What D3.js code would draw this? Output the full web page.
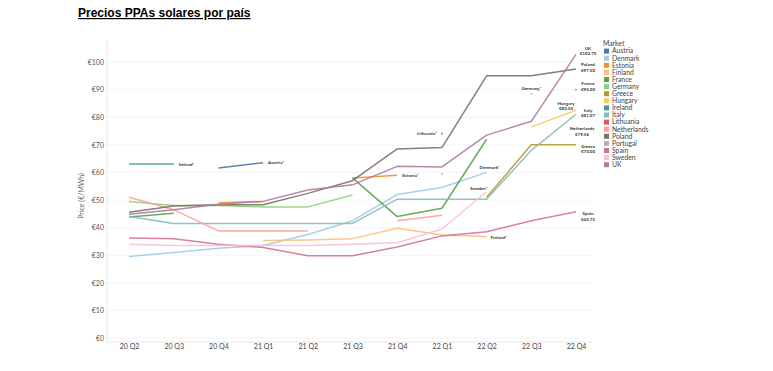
<!DOCTYPE html>
<html>
<head>
<meta charset="utf-8">
<script src="https://cdn.jsdelivr.net/npm/d3@7"></script>
<style>
  body { margin: 0; background: #fff; }
  svg { display: block; }
</style>
</head>
<body>
<div id="wrapper"></div>
<script>
// data
const quarters = ["20 Q2", "20 Q3", "20 Q4", "21 Q1", "21 Q2", "21 Q3", "21 Q4", "22 Q1", "22 Q2", "22 Q3", "22 Q4"]
const markets = ["Austria", "Denmark", "Estonia", "Finland", "France", "Germany", "Greece", "Hungary",
  "Ireland", "Italy", "Lithuania", "Netherlands", "Poland", "Portugal", "Spain", "Sweden", "UK"]
const marketColors = ["#4e79a7", "#a0cbe8", "#f28e2b", "#ffbe7d", "#59a14f", "#8cd17d", "#b6992d", "#f1ce63",
  "#499894", "#86bcb6", "#e15759", "#ff9d9a", "#79706e", "#bab0ac", "#d37295", "#fabfd2", "#b07aa1"]

const austria     = [null, null, 61.6, 63.5, null, null, null, null, null, null, null]
const denmark     = [29.5, 31, 32.5, 33.5, 37.5, 42.5, 52, 54.5, 60, null, null]
const estonia     = [null, null, 49, 49.5, null, 58, 59, null, null, null, null]
const finland     = [null, null, null, 35.3, 35.5, 36, 39.8, 37.3, 36.8, null, null]
const france      = [43.8, 45.2, null, null, null, 58, 44, 47, 72, null, null]
const germany     = [49.5, 48, 48, 47.5, 47.5, 51.8, null, null, null, null, null]
const greece      = [null, null, null, null, null, null, null, null, 51, 70, 70]
const hungary     = [null, null, null, null, null, null, null, null, null, 76.5, 82.5]
const ireland     = [63, 63, null, null, null, null, null, null, null, null, null]
const italy       = [44, 41.5, 41.5, 41.5, 41.5, 41.5, 50.3, 50.3, 50.3, 68, 81.07]
const netherlands = [51, 46.5, 38.8, 38.8, 38.8, null, 42.5, 44.5, null, null, null]
const poland      = [45.6, 47.8, 48.3, 48.3, 52.4, 57, 68.5, 69, 95, 95, 97.5]
const spain       = [36.2, 36, 34, 32.8, 29.8, 29.8, 33, 37, 38.5, 42.5, 45.75]
const sweden      = [34, 33.5, 33.5, 33.5, 33.5, 34, 34.5, 39.5, 53, null, null]
const uk          = [44.8, 46.5, 48.5, 49.5, 53.6, 55.5, 62.2, 62, 73.5, 78.5, 102.75]

const seriesList = [
  ["Austria", austria], ["Denmark", denmark], ["Estonia", estonia], ["Finland", finland],
  ["France", france], ["Germany", germany], ["Greece", greece], ["Hungary", hungary],
  ["Ireland", ireland], ["Italy", italy], ["Netherlands", netherlands], ["Poland", poland],
  ["Spain", spain], ["Sweden", sweden], ["UK", uk],
]

// single-point markers next to some labels
const markerNames  = ["Lithuania", "Estonia", "Germany", "France"]
const markerQuarter = ["22 Q1", "22 Q1", "22 Q3", "22 Q4"]
const markerValues = [74, 59.5, 88.5, 90]

// value call-outs at the last quarter
const endNames  = ["UK", "Poland", "France", "Hungary", "Italy", "Netherlands", "Greece", "Spain"]
const endTexts  = ["€102.75", "€97.50", "€95.00", "€82.50", "€81.07", "€79.56", "€70.00", "€45.75"]
const endValues = [104.5, 98.5, 91.5, 84.5, 82, 75.3, 69, 44.5]

// inline series labels
const inlineNames  = ["Ireland¹", "Austria¹", "Estonia¹", "Lithuania¹", "Germany¹", "Denmark¹", "Sweden¹", "Finland¹"]
const inlineQuarter = ["20 Q3", "21 Q1", "21 Q4", "22 Q1", "22 Q3", "22 Q2", "22 Q2", "22 Q2"]
const inlineValues = [63, 63.5, 59, 74, 90.5, 61.5, 54.3, 36.6]

const yTicks = [0, 10, 20, 30, 40, 50, 60, 70, 80, 90, 100]

async function drawChart() {
  const width = 773
  const height = 371

  const svg = d3.select("#wrapper")
    .append("svg")
      .attr("width", width)
      .attr("height", height)
      .style("font-family", "Lato, 'Open Sans', sans-serif")

  // title
  svg.append("text")
      .attr("x", 78)
      .attr("y", 17)
      .attr("font-size", 12)
      .attr("font-weight", "bold")
      .attr("font-family", "'Liberation Sans', Arial, sans-serif")
      .style("text-decoration", "underline")
      .attr("fill", "#000")
      .text("Precios PPAs solares por país")

  // scales
  const xScale = d3.scalePoint()
    .domain(quarters)
    .range([129, 576])
  const yScale = d3.scaleLinear()
    .domain([0, 100])
    .range([338, 62])
  const colorScale = d3.scaleOrdinal(markets, marketColors)

  // grid
  svg.append("g")
    .selectAll("line")
    .data(yTicks)
    .join("line")
      .attr("x1", 108)
      .attr("x2", 592)
      .attr("y1", d => yScale(d))
      .attr("y2", d => yScale(d))
      .attr("stroke", "#f1f1f1")
      .attr("stroke-width", 0.8)

  svg.append("line")
      .attr("x1", 107).attr("x2", 107)
      .attr("y1", 40).attr("y2", 342)
      .attr("stroke", "#e6e6e6")
  svg.append("line")
      .attr("x1", 107).attr("x2", 592)
      .attr("y1", 342).attr("y2", 342)
      .attr("stroke", "#e6e6e6")

  // y axis
  const yAxis = d3.axisLeft(yScale)
    .tickValues(yTicks)
    .tickSize(0)
    .tickPadding(0)
    .tickFormat(d => "€" + d)
  svg.append("g")
      .attr("transform", "translate(104,0)")
      .call(yAxis)
      .call(g => g.select(".domain").remove())
      .call(g => g.selectAll("text").attr("font-size", 7).attr("fill", "#555").attr("font-family", "Lato, sans-serif"))

  svg.append("text")
      .attr("transform", "translate(84,196) rotate(-90)")
      .attr("text-anchor", "middle")
      .attr("font-size", 7)
      .attr("fill", "#666")
      .text("Price (€/MWh)")

  // x axis
  const xAxis = d3.axisBottom(xScale)
    .tickSize(0)
    .tickPadding(0)
  svg.append("g")
      .attr("transform", "translate(0,343)")
      .call(xAxis)
      .call(g => g.select(".domain").remove())
      .call(g => g.selectAll("text").attr("font-size", 7).attr("fill", "#444").attr("dy", "0.9em").attr("font-family", "Lato, sans-serif"))

  // lines
  const lineGenerator = d3.line()
    .defined(d => d.value != null)
    .x(d => xScale(d.quarter))
    .y(d => yScale(d.value))

  svg.append("g")
    .selectAll("path")
    .data(seriesList)
    .join("path")
      .attr("d", ([name, values]) => lineGenerator(values.map((v, i) => ({quarter: quarters[i], value: v}))))
      .attr("fill", "none")
      .attr("stroke", ([name]) => colorScale(name))
      .attr("stroke-width", 1.5)
      .attr("stroke-linejoin", "round")
      .style("opacity", 0.9)

  // markers
  svg.append("g")
    .selectAll("circle")
    .data(markerNames)
    .join("circle")
      .attr("cx", (d, i) => xScale(markerQuarter[i]))
      .attr("cy", (d, i) => yScale(markerValues[i]))
      .attr("r", 0.9)
      .attr("fill", d => colorScale(d))

  // inline labels
  const inlineAnchor = {
    "Ireland¹": [5, 0, "start"], "Austria¹": [5, 0, "start"], "Estonia¹": [5, 0, "start"],
    "Lithuania¹": [-5, 0, "end"], "Germany¹": [0, 0, "middle"], "Denmark¹": [3, -1, "middle"],
    "Sweden¹": [-8, 0, "middle"], "Finland¹": [12, 0, "middle"],
  }
  svg.append("g")
    .selectAll("text")
    .data(inlineNames)
    .join("text")
      .attr("x", (d, i) => xScale(inlineQuarter[i]) + inlineAnchor[d][0])
      .attr("y", (d, i) => yScale(inlineValues[i]) + inlineAnchor[d][1])
      .attr("dy", "0.35em")
      .attr("text-anchor", d => inlineAnchor[d][2])
      .attr("font-size", 4.5)
      .attr("font-weight", "bold")
      .attr("fill", "#333")
      .text(d => d)

  // end labels
  const endX = d => xScale("22 Q4") + (d == "Hungary" ? -10 : d == "Netherlands" ? 6 : 12)
  const endGroup = svg.append("g")
    .selectAll("text")
    .data(endNames)
    .join("text")
      .attr("x", endX)
      .attr("y", (d, i) => yScale(endValues[i]))
      .attr("text-anchor", "middle")
      .attr("font-size", 4.5)
      .attr("font-weight", "bold")
      .attr("fill", "#333")
  endGroup.append("tspan").text(d => d)
  endGroup.append("tspan")
      .attr("x", endX)
      .attr("dy", 5.5)
      .text((d, i) => endTexts[i])

  // legend
  const legend = svg.append("g")
      .attr("transform", "translate(603,44)")
  legend.append("text")
      .attr("x", 0)
      .attr("y", 0)
      .attr("dy", "0.35em")
      .attr("font-size", 6.8)
      .attr("fill", "#444")
      .text("Market")
  const items = legend.selectAll("g")
    .data(markets)
    .join("g")
      .attr("transform", (d, i) => `translate(0,${7.1 * (i + 1)})`)
  items.append("rect")
      .attr("x", 1)
      .attr("y", -2.5)
      .attr("width", 5)
      .attr("height", 5)
      .attr("fill", d => colorScale(d))
  items.append("text")
      .attr("x", 9)
      .attr("y", 0)
      .attr("dy", "0.35em")
      .attr("font-size", 6.8)
      .attr("fill", "#444")
      .text(d => d)
}

drawChart()
</script>
</body>
</html>
